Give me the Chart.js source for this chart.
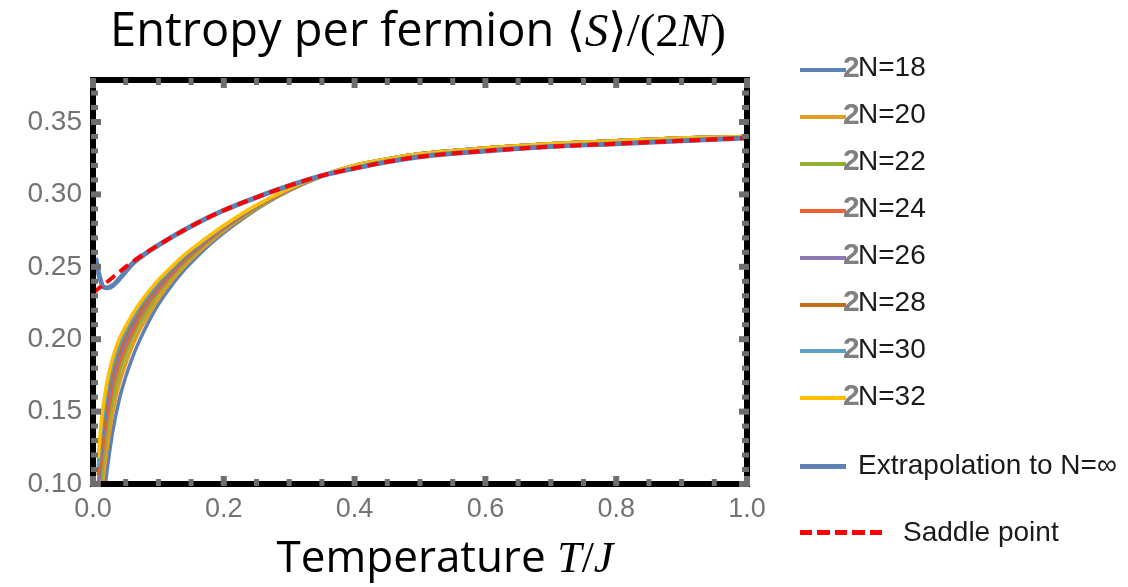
<!DOCTYPE html>
<html><head><meta charset="utf-8">
<script src="https://cdn.jsdelivr.net/npm/chart.js@4.4.1/dist/chart.umd.min.js"></script>
<style>
html,body{margin:0;padding:0;background:#fff;}
#wrap{position:relative;width:1128px;height:587px;overflow:hidden;background:#fff;}
#c{position:absolute;left:0;top:0;}
.ttl{position:absolute;white-space:nowrap;font-family:'Open Sans',sans-serif;color:#000;line-height:1;transform:translateX(-50%);}
.math{font-family:'Liberation Serif','DejaVu Serif',serif;}
.it{font-style:italic;}
.lg{position:absolute;white-space:nowrap;font-family:'Liberation Sans',Arial,sans-serif;line-height:1;}
</style></head><body>
<div id="wrap">
<canvas id="c" width="1128" height="587"></canvas>
<div class="ttl" style="left:418px;top:5px;font-size:47px;">Entropy per fermion <span class="math">⟨<span class="it">S</span>⟩/(2<span class="it">N</span>)</span></div>
<div class="ttl" style="left:445px;top:533px;font-size:44px;">Temperature <span class="math it">T</span><span class="math">/</span><span class="math it">J</span></div>
<div id="legend"></div>
</div>
<script>
// ---- data ----
const temps = [0.008,0.012,0.016,0.02,0.025,0.03,0.04,0.05,0.06,0.07,0.085,0.1,0.12,0.14,0.16,0.18,0.2,0.23,0.26,0.3,0.35,0.4,0.45,0.5,0.6,0.7,0.8,0.9,1.0];
const s18 = [0.050,0.070,0.088,0.104,0.121,0.136,0.158,0.174,0.187,0.198,0.212,0.224,0.237,0.248,0.2575,0.266,0.2735,0.2835,0.2925,0.3025,0.3125,0.3195,0.3242,0.328,0.332,0.335,0.337,0.339,0.340];
const s20 = [0.067,0.088,0.105,0.120,0.135,0.149,0.169,0.183,0.195,0.205,0.217,0.228,0.2403,0.2506,0.2595,0.2676,0.2748,0.2845,0.2931,0.3029,0.3126,0.3196,0.3243,0.328,0.332,0.335,0.337,0.339,0.340];
const s22 = [0.081,0.102,0.118,0.132,0.147,0.159,0.177,0.190,0.201,0.210,0.221,0.232,0.2429,0.2527,0.2611,0.2688,0.2758,0.2852,0.2936,0.3032,0.3127,0.3197,0.3243,0.328,0.332,0.335,0.337,0.339,0.340];
const s24 = [0.091,0.112,0.128,0.142,0.155,0.167,0.183,0.195,0.205,0.214,0.225,0.234,0.2448,0.2543,0.2623,0.2697,0.2765,0.2858,0.2940,0.3034,0.3128,0.3198,0.3244,0.328,0.332,0.335,0.337,0.339,0.340];
const s26 = [0.099,0.120,0.136,0.149,0.162,0.173,0.188,0.199,0.209,0.217,0.227,0.236,0.2464,0.2556,0.2633,0.2705,0.2771,0.2862,0.2943,0.3036,0.3129,0.3199,0.3245,0.328,0.332,0.335,0.337,0.339,0.340];
const s28 = [0.106,0.127,0.143,0.156,0.168,0.178,0.192,0.203,0.212,0.219,0.229,0.238,0.2477,0.2566,0.2641,0.2711,0.2776,0.2866,0.2945,0.3037,0.3130,0.3200,0.3245,0.328,0.332,0.335,0.337,0.339,0.340];
const s30 = [0.112,0.134,0.149,0.161,0.173,0.182,0.196,0.206,0.214,0.222,0.231,0.2395,0.2488,0.2576,0.2648,0.2716,0.2781,0.2870,0.2948,0.3039,0.3130,0.3200,0.3245,0.328,0.332,0.335,0.337,0.339,0.340];
const s32 = [0.118,0.140,0.155,0.167,0.178,0.187,0.200,0.209,0.217,0.224,0.233,0.241,0.2500,0.2585,0.2655,0.2722,0.2785,0.2873,0.2950,0.3040,0.3130,0.3200,0.3245,0.328,0.332,0.335,0.337,0.339,0.340];

const extrapT = [0.004,0.01,0.016,0.022,0.03,0.043,0.06,0.08,0.1,0.15,0.2,0.25,0.3,0.35,0.4,0.45,0.5,0.6,0.7,0.8,0.9,1.0];
const extrapS = [0.256,0.243,0.236,0.2355,0.237,0.243,0.252,0.259,0.265,0.278,0.289,0.298,0.306,0.313,0.318,0.3225,0.326,0.330,0.333,0.335,0.337,0.339];

const saddleT = [0,0.01,0.02,0.035,0.05,0.075,0.1,0.15,0.2,0.25,0.3,0.35,0.4,0.45,0.5,0.6,0.7,0.8,0.9,1.0];
const saddleS = [0.232,0.2355,0.239,0.2445,0.250,0.258,0.265,0.278,0.289,0.298,0.306,0.313,0.318,0.3225,0.326,0.330,0.333,0.335,0.337,0.339];

const finiteLabels = ['2N=18','2N=20','2N=22','2N=24','2N=26','2N=28','2N=30','2N=32'];
const finiteSeries = [s18,s20,s22,s24,s26,s28,s30,s32];
const extrapLabel = 'Extrapolation to N=∞';
const saddleLabel = 'Saddle point';

const xTickValues = [0,0.2,0.4,0.6,0.8,1.0];
const xTickLabels = ['0.0','0.2','0.4','0.6','0.8','1.0'];
const yTickValues = [0.10,0.15,0.20,0.25,0.30,0.35];
const yTickLabels = ['0.10','0.15','0.20','0.25','0.30','0.35'];

// ---- styles ----
const finiteColors = ['#5E81B5','#E19C24','#8FB032','#EB6235','#8778B3','#C56E1A','#5D9EC7','#FFBF00'];
const extrapColor = '#5E81B5';
const saddleColor = '#FF0000';

const pts = (xs, ys) => xs.map((x,i)=>({x:x,y:ys[i]}));

const datasets = [];
datasets.push({label:saddleLabel,data:pts(saddleT,saddleS),borderColor:saddleColor,borderWidth:4,borderDash:[11,6],order:0,cubicInterpolationMode:'monotone',pointRadius:0,fill:false});
datasets.push({label:extrapLabel,data:pts(extrapT,extrapS),borderColor:extrapColor,borderWidth:5,order:1,cubicInterpolationMode:'monotone',pointRadius:0,fill:false});
finiteSeries.forEach((s,i)=>{
  datasets.push({label:finiteLabels[i],data:pts(temps,s),borderColor:finiteColors[i],borderWidth:3.5,order:10-i,cubicInterpolationMode:'monotone',pointRadius:0,fill:false});
});

const framePlugin = {
  id:'frame',
  afterDatasetsDraw(chart){
    const ctx = chart.ctx, a = chart.chartArea, x = chart.scales.x, y = chart.scales.y;
    ctx.save();
    ctx.strokeStyle = '#000'; ctx.lineWidth = 6;
    ctx.strokeRect(a.left, a.top, a.right-a.left, a.bottom-a.top);
    ctx.fillStyle = '#6e6e6e';
    for (let k=0;k<=20;k++){
      const px = x.getPixelForValue(k*0.05);
      const major = k%4===0, len = major?8:5, w = major?6:5;
      ctx.fillRect(px-w/2, a.top-2, w, len+2);
      ctx.fillRect(px-w/2, a.bottom-len, w, len+2);
    }
    for (let k=10;k<=37;k++){
      const py = y.getPixelForValue(k/100);
      const major = k%5===0, len = major?8:5, w = major?6:5;
      ctx.fillRect(a.left-2, py-w/2, len+2, w);
      ctx.fillRect(a.right-len, py-w/2, len+2, w);
    }
    ctx.restore();
  }
};

new Chart(document.getElementById('c'), {
  type:'line',
  data:{datasets:datasets},
  options:{
    responsive:false, animation:false,
    layout:{padding:{left:0,top:80,right:381,bottom:0}},
    plugins:{legend:{display:false},tooltip:{enabled:false},title:{display:false}},
    elements:{point:{radius:0}},
    scales:{
      x:{type:'linear',min:0,max:1,grid:{display:false},border:{display:false},
         afterBuildTicks:s=>{s.ticks = xTickValues.map(v=>({value:v}));},
         afterFit:s=>{s.height = 103;},
         ticks:{padding:1,color:'#737373',maxRotation:0,autoSkip:false,
                font:{family:"'Liberation Sans Narrow','Liberation Sans'",size:27},
                callback:(v,i)=>xTickLabels[i]}},
      y:{type:'linear',min:0.10,max:0.379,grid:{display:false},border:{display:false},
         afterBuildTicks:s=>{s.ticks = yTickValues.map(v=>({value:v}));},
         afterFit:s=>{s.width = 93;},
         ticks:{padding:3,color:'#737373',autoSkip:false,
                font:{family:"'Liberation Sans'",size:28},
                callback:(v,i)=>yTickLabels[i]}}
    }
  },
  plugins:[framePlugin]
});

// ---- HTML legend ----
const lg = document.getElementById('legend');
function add(html, style){ const d=document.createElement('div'); d.className='lg'; d.innerHTML=html; d.setAttribute('style',style); lg.appendChild(d); return d; }
finiteLabels.forEach((lab,i)=>{
  const yc = 70 + i*46.9;
  add('', `left:800px;top:${yc-2}px;width:46px;height:4px;background:${finiteColors[i]};`);
  add(lab.charAt(0), `left:843px;top:${yc+7-25.4}px;font-size:30px;font-weight:bold;color:#808080;`);
  add(lab.slice(1), `left:858px;top:${yc+7-23.7}px;font-size:28px;color:#1a1a1a;`);
});
add('', `left:800px;top:464px;width:46px;height:5px;background:${extrapColor};`);
add(extrapLabel, `left:858px;top:${475-23.7}px;font-size:28px;color:#1a1a1a;`);
add('', `left:800px;top:530px;width:85px;height:5px;background:repeating-linear-gradient(to right, ${saddleColor} 0 12px, transparent 12px 17.5px);`);
add(saddleLabel, `left:903px;top:${542-23.7}px;font-size:28px;color:#1a1a1a;`);
</script>
</body></html>
